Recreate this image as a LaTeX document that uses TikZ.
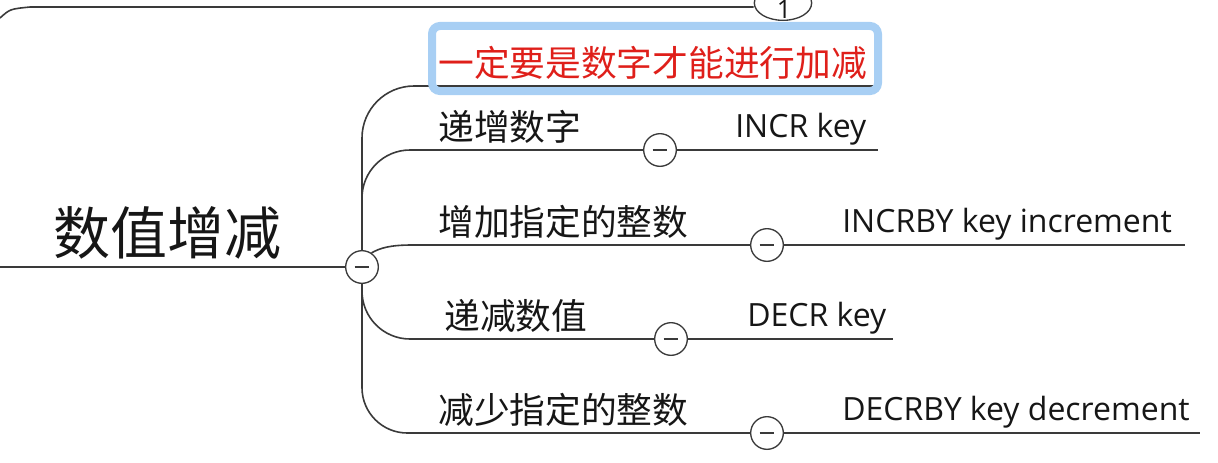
\documentclass[tikz,border=0pt]{standalone}
\usepackage{fontspec}
\setmainfont{Open Sans}
\newfontfamily\cjk{Noto Sans CJK SC}
\usepackage{xcolor}
\usepackage{tikz}
\usetikzlibrary{positioning,shapes.geometric}
\definecolor{ink}{HTML}{161616}
\definecolor{wire}{HTML}{3A3A3A}
\definecolor{selred}{HTML}{DF1F1A}
\definecolor{selblue}{HTML}{A8CFF4}

\begin{document}
\begin{tikzpicture}[
  x=0.75pt, y=-0.75pt,
  branch/.style={draw=wire, line width=1.2pt},
  fold/.style={circle, draw=wire, line width=1pt, fill=white, minimum size=24.5pt, inner sep=0pt,
    path picture={\draw[wire, line width=1pt] ([xshift=-5.5pt]path picture bounding box.center) -- ([xshift=5.5pt]path picture bounding box.center);}},
  topic/.style={font=\cjk\fontsize{26.8pt}{30pt}\selectfont, text=ink, anchor=base west, inner sep=0pt},
  cmd/.style={font=\fontsize{24pt}{28pt}\selectfont, text=ink, anchor=base west, inner sep=0pt},
  selbox/.style={draw=selblue, line width=6pt, rounded corners=6pt, minimum width=334.5pt, minimum height=48.8pt}
]
  \useasboundingbox (0,0) rectangle (1218,462);
  \clip (0,0) rectangle (1218,462);

  \node[ellipse, draw=wire, line width=1pt, fill=white, minimum width=43pt, minimum height=26pt, inner sep=0pt] (more) at (783,3) {};
  \node[font=\fontsize{19pt}{21pt}\selectfont, text=ink, inner sep=0pt] (count) at (784,9) {1};
  \coordinate (topin) at (0,18);
  \coordinate (topbend) at (30,7);
  \draw[branch] (topin) .. controls (10,9) .. (topbend) -- (more.west |- topbend);

  \node[fold] (root) at (362,267) {};
  \coordinate (rootin) at (0,267);
  \draw[branch] (rootin) -- (root.west);
  \node[font=\cjk\fontsize{42.75pt}{48pt}\selectfont, text=ink, anchor=base west, inner sep=0pt] (rootlabel) at (53,254) {数值增减};

  \coordinate (u0) at (873,86);
  \draw[branch, rounded corners=39pt] (root.north) |- (u0);
  \node[selbox] (sel) at (655,58.5) {};
  \node[topic, text=selred] (t0) at (438,76) {一定要是数字才能进行加减};

  \node[fold] (c1) at (660,150) {};
  \coordinate (e1) at (878,150);
  \draw[branch, rounded corners=36pt] (root.north) |- (c1.west);
  \draw[branch] (c1.east) -- (e1);
  \node[topic] (t1) at (438,140) {递增数字};
  \node[cmd] (k1) at (735,137) {INCR key};

  \node[fold] (c2) at (767,245) {};
  \coordinate (s2) at (412,245);
  \coordinate (e2) at (1185,245);
  \draw[branch] (root.56) .. controls (380,248) and (390,245) .. (s2) -- (c2.west);
  \draw[branch] (c2.east) -- (e2);
  \node[topic] (t2) at (438,235) {增加指定的整数};
  \node[cmd] (k2) at (842,232) {INCRBY key increment};

  \node[fold] (c3) at (671,339) {};
  \coordinate (e3) at (893,339);
  \draw[branch, rounded corners=36pt] (root.south) |- (c3.west);
  \draw[branch] (c3.east) -- (e3);
  \node[topic] (t3) at (444,329) {递减数值};
  \node[cmd] (k3) at (747,326) {DECR key};

  \node[fold] (c4) at (767,433) {};
  \coordinate (e4) at (1200,433);
  \draw[branch, rounded corners=34pt] (root.south) |- (c4.west);
  \draw[branch] (c4.east) -- (e4);
  \node[topic] (t4) at (438,423) {减少指定的整数};
  \node[cmd] (k4) at (842,420) {DECRBY key decrement};
\end{tikzpicture}
\end{document}
